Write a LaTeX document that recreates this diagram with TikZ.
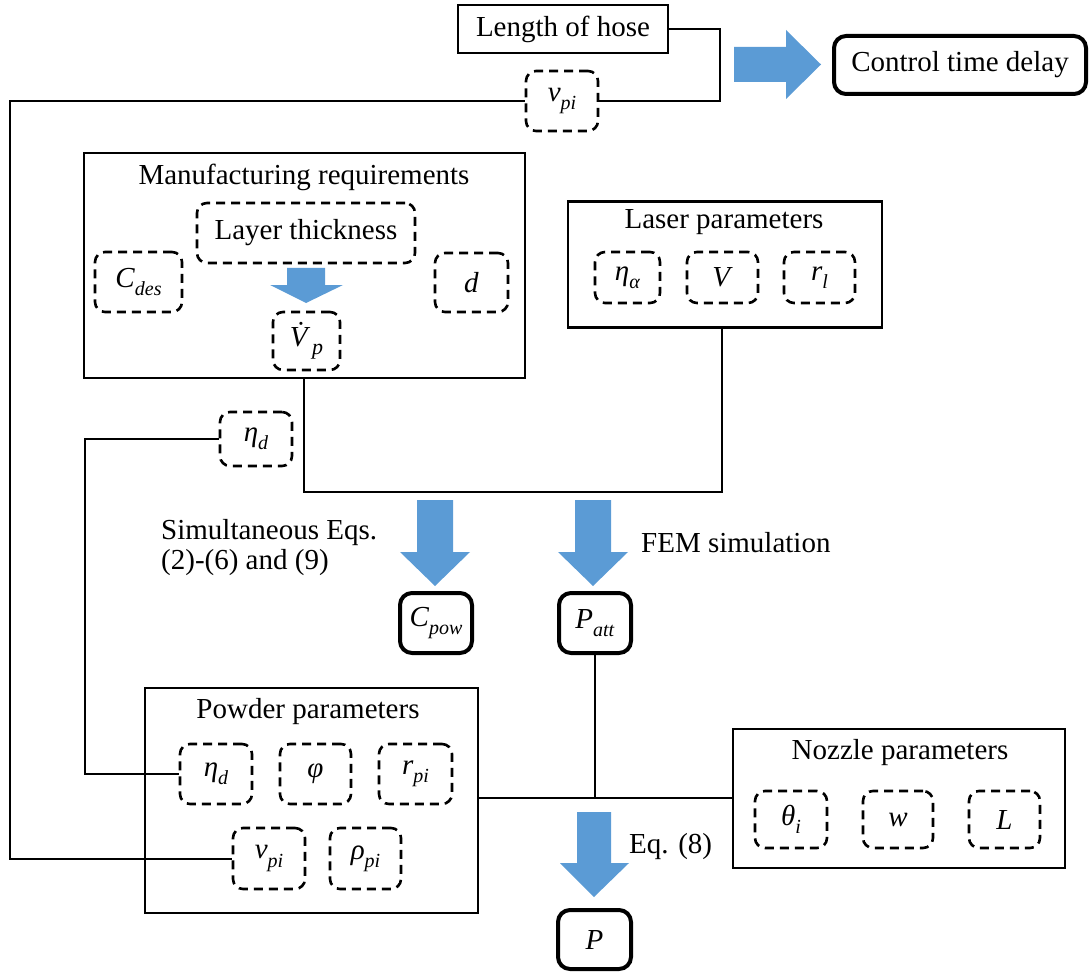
\documentclass[tikz,border=0pt]{standalone}
\usepackage{fontspec}
\setmainfont{Liberation Serif}
\definecolor{arrowblue}{HTML}{5B9BD5}
\newcommand{\sym}[2]{\textit{#1}\raisebox{-0.28em}{\fontsize{20}{20}\selectfont\textit{#2}}}
\begin{document}
\begin{tikzpicture}[x=1pt,y=-1pt,
  every node/.style={font=\fontsize{29}{29}\selectfont, inner sep=0pt},
  solidbox/.style={draw, line width=2.2pt},
  dashbox/.style={draw, line width=2.6pt, dash pattern=on 9pt off 6pt, rounded corners=10pt},
  roundbox/.style={draw, line width=4pt, rounded corners=12pt},
  conn/.style={line width=2pt},
  blockarrow/.style={fill=arrowblue, draw=none},
  lbl/.style={anchor=west, align=left}
]
\useasboundingbox (0,0) rectangle (1089,976);

% top part
\node[solidbox, minimum width=210pt, minimum height=48pt] (hose) at (563,29) {Length of hose};
\node[dashbox, minimum width=72pt, minimum height=60pt] (vtop) at (562,101) {\sym{v}{pi}};
\node[roundbox, minimum width=252pt, minimum height=58pt] (ctd) at (960,65) {Control time delay};
\fill[blockarrow] (734,47) -- (786,47) -- (786,30) -- (821,64.5) -- (786,99) -- (786,82) -- (734,82) -- cycle;

% manufacturing requirements
\node[solidbox, minimum width=441pt, minimum height=225pt] (manu) at (304.5,265.5) {};
\node (manutitle) at (304,177) {Manufacturing requirements};
\node[dashbox, minimum width=218pt, minimum height=60pt] (layer) at (306,233) {Layer thickness};
\node[dashbox, minimum width=87pt, minimum height=60pt] (cdes) at (138.5,282) {\sym{C}{des}};
\node[dashbox, minimum width=73pt, minimum height=59pt] (d) at (471.5,282.5) {\textit{d}};
\node[dashbox, minimum width=67pt, minimum height=58pt] (vp) at (306.5,341) {\textit{\.{V}}\kern-0.12em\raisebox{-0.28em}{\fontsize{22}{22}\selectfont\textit{p}}};
\fill[blockarrow] (287,268) -- (325,268) -- (325,285) -- (343,285) -- (306,303) -- (270,285) -- (287,285) -- cycle;

% laser parameters
\node[solidbox, minimum width=314pt, minimum height=126pt] (laser) at (725,264.5) {};
\node (lasertitle) at (724,222) {Laser parameters};
\node[dashbox, minimum width=65pt, minimum height=51pt] (etaa) at (627.5,277.5) {\sym{η}{α}};
\node[dashbox, minimum width=71pt, minimum height=51pt] (V) at (722.5,277.5) {\textit{V}};
\node[dashbox, minimum width=71pt, minimum height=51pt] (rl) at (819.5,277.5) {\sym{r}{l}};

% eta_d top
\node[dashbox, minimum width=72pt, minimum height=54pt] (etatop) at (256,439) {\sym{η}{d}};

% middle arrows and results
\fill[blockarrow] (417,500) -- (453,500) -- (453,552) -- (470,552) -- (435,586) -- (400,552) -- (417,552) -- cycle;
\fill[blockarrow] (575,500) -- (611,500) -- (611,552) -- (628,552) -- (593,586) -- (558,552) -- (575,552) -- cycle;
\node[lbl, font=\fontsize{29}{30}\selectfont] (simeq) at (161,548) {Simultaneous Eqs.\\(2)-(6) and (9)};
\node[lbl] (fem) at (641,543) {FEM simulation};
\node[roundbox, minimum width=72pt, minimum height=60pt] (cpow) at (436,623) {\sym{C}{pow}};
\node[roundbox, minimum width=72pt, minimum height=60pt] (patt) at (595,623) {\sym{P}{att}};

% powder parameters
\node[solidbox, minimum width=333pt, minimum height=225pt] (powder) at (311.5,800.5) {};
\node (powdertitle) at (308,712) {Powder parameters};
\node[dashbox, minimum width=72pt, minimum height=60pt] (etapow) at (216,774) {\sym{η}{d}};
\node[dashbox, minimum width=71pt, minimum height=60pt] (phi) at (315.5,774) {\textit{φ}};
\node[dashbox, minimum width=73pt, minimum height=60pt] (rpi) at (415.5,774) {\sym{r}{pi}};
\node[dashbox, minimum width=72pt, minimum height=61pt] (vpow) at (269,858.5) {\sym{v}{pi}};
\node[dashbox, minimum width=71pt, minimum height=61pt] (rho) at (365.5,858.5) {\sym{ρ}{pi}};

% nozzle parameters
\node[solidbox, minimum width=332pt, minimum height=139pt] (nozzle) at (899,798.5) {};
\node (nozzletitle) at (900,753) {Nozzle parameters};
\node[dashbox, minimum width=72pt, minimum height=57pt] (theta) at (791,819.5) {\sym{θ}{i}};
\node[dashbox, minimum width=70pt, minimum height=57pt] (w) at (898,819.5) {\textit{w}};
\node[dashbox, minimum width=71pt, minimum height=57pt] (L) at (1004.5,819.5) {\textit{L}};

% bottom
\fill[blockarrow] (577,812) -- (611,812) -- (611,863) -- (629,863) -- (594,897) -- (560,863) -- (577,863) -- cycle;
\node[lbl] (eq8) at (629,847) {Eq. (8)};
\node[roundbox, minimum width=73pt, minimum height=59pt] (P) at (594.5,939.5) {\textit{P}};

% connectors
\coordinate (hx) at (720,0);
\coordinate (lx) at (10,0);
\coordinate (ex) at (85,0);
\coordinate (j1) at (722,492);
\coordinate (j2) at (304,492);
\coordinate (j3) at (595,798);
\draw[conn] (hose.east) -- (hose.east -| hx) |- (vtop.east);
\draw[conn] (vtop.west) -- (vtop.west -| lx) |- (vpow.west);
\draw[conn] (etatop.west) -- (etatop.west -| ex) |- (etapow.west);
\draw[conn] (laser.south -| j1) -- (j1) -- (j2) -- (manu.south -| j2);
\draw[conn] (patt.south) -- (j3);
\draw[conn] (j3 -| powder.east) -- (j3 -| nozzle.west);
\end{tikzpicture}
\end{document}
